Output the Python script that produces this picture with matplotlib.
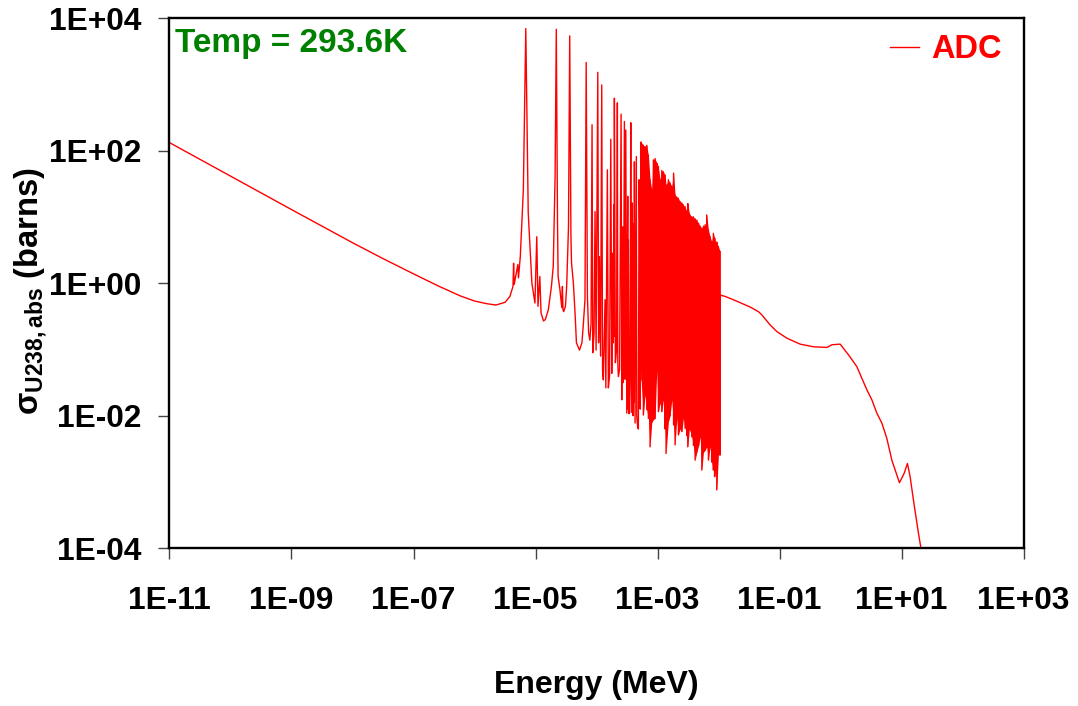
import numpy as np
import matplotlib
matplotlib.use("Agg")
import matplotlib.pyplot as plt
from matplotlib.ticker import FixedLocator, FuncFormatter, NullLocator

plt.rcParams['font.family'] = ['Liberation Sans', 'DejaVu Sans']
plt.rcParams['font.weight'] = 'bold'
plt.rcParams['mathtext.fontset'] = 'custom'
plt.rcParams['mathtext.rm'] = 'Liberation Sans:bold'
plt.rcParams['mathtext.bf'] = 'Liberation Sans:bold'
plt.rcParams['mathtext.it'] = 'Liberation Sans:bold'

# values are log10(E / MeV) and log10(sigma / barns)

# thermal 1/v part and the resolved resonances up to ~0.5 keV
res_log_e = [-11.0, -10.0, -9.0, -8.5, -8.0, -7.5, -7.0, -6.6, -6.24, -6.0,
             -5.8, -5.65, -5.5, -5.42, -5.37, -5.36, -5.35, -5.29, -5.28, -5.25,
             -5.20, -5.16, -5.12, -5.06, -5.01, -4.98, -4.96, -4.93, -4.91, -4.87,
             -4.84, -4.79, -4.74, -4.71, -4.68, -4.66, -4.64, -4.63, -4.60, -4.57,
             -4.56, -4.55, -4.54, -4.51, -4.49, -4.46, -4.44, -4.42, -4.41, -4.38,
             -4.35, -4.33, -4.28, -4.24, -4.22, -4.19, -4.17, -4.15, -4.13, -4.11,
             -4.09, -4.074, -4.062, -4.041, -4.025, -4.008, -3.980, -3.967, -3.954, -3.934,
             -3.915, -3.902, -3.889, -3.861, -3.848, -3.833, -3.823, -3.807, -3.787, -3.767,
             -3.751, -3.738, -3.725, -3.718, -3.713, -3.708, -3.692, -3.672, -3.659, -3.652,
             -3.643, -3.623, -3.598, -3.587, -3.574, -3.561, -3.544, -3.533, -3.521, -3.505,
             -3.489, -3.484, -3.479, -3.467, -3.451, -3.439, -3.432, -3.413, -3.402, -3.390,
             -3.385, -3.380, -3.369, -3.348, -3.341, -3.328, -3.315, -3.303, -3.295, -3.284]
res_log_s = [2.12, 1.615, 1.11, 0.86, 0.61, 0.37, 0.14, -0.04, -0.19, -0.27,
             -0.31, -0.33, -0.29, -0.20, -0.05, 0.30, -0.02, 0.28, 0.08, 0.40,
             1.41, 3.84, 1.06, 0.00, -0.30, 0.70, -0.35, 0.10, -0.45, -0.57,
             -0.55, -0.40, -0.05, 0.25, 1.60, 3.83, 0.90, 0.10, -0.10, -0.37,
             -0.05, -0.40, -0.43, -0.35, -0.05, 0.85, 3.73, 0.70, 0.30, 0.00,
             -0.50, -0.90, -1.01, -0.90, -0.66, -0.25, 3.33, -0.20, -0.75, -0.86,
             -0.60, 2.39, -1.05, -0.75, 1.08, -1.01, 3.18, -0.90, 0.40, -1.10,
             2.99, -1.31, -1.46, -0.25, -1.58, 0.35, 1.71, -1.58, -1.40, 2.17,
             -1.36, 0.45, -0.90, 1.18, -0.80, 2.79, -1.20, -1.00, 2.72, -1.20,
             -1.41, -1.30, 2.55, -1.76, 0.85, -1.50, 2.44, -1.45, 2.31, -1.96,
             1.31, -1.90, 0.65, -1.97, -1.26, 2.42, -1.95, 1.21, -2.00, 0.90,
             -1.80, 1.83, -2.11, 1.91, -2.00, -2.16, -2.20, 1.56, 0.95, -1.90]

# unresolved-looking band up to 10 keV: upper and lower envelope
dense_log_e = [-3.270, -3.233, -3.205, -3.177, -3.151, -3.123, -3.095, -3.069, -3.041, -3.013,
               -2.987, -2.959, -2.931, -2.905, -2.877, -2.861, -2.823, -2.795, -2.767, -2.738,
               -2.713, -2.685, -2.659, -2.631, -2.603, -2.577, -2.549, -2.521, -2.505, -2.479,
               -2.439, -2.413, -2.385, -2.357, -2.328, -2.303, -2.275, -2.248, -2.221, -2.194,
               -2.167, -2.139, -2.114, -2.085, -2.065, -2.046, -2.030, -2.003, -1.976]
dense_top = [2.13, 2.08, 2.06, 2.08, 1.93, 1.56, 1.41, 1.86, 1.88, 1.81,
             1.76, 1.56, 1.70, 1.68, 1.63, 1.48, 1.56, 1.51, 1.46, 1.66,
             1.33, 1.30, 1.28, 1.23, 1.21, 1.18, 1.15, 1.08, 1.20, 1.05,
             1.00, 1.00, 0.97, 0.95, 0.90, 0.86, 0.83, 0.86, 0.88, 1.03,
             0.80, 0.70, 0.63, 0.75, 0.68, 0.60, 0.62, 0.55, 0.48]
dense_bot = [-1.46, -1.99, -1.69, -1.91, -2.04, -2.47, -2.10, -2.06, -2.04, -1.31,
             -1.94, -1.81, -1.94, -1.76, -2.20, -2.57, -2.09, -2.00, -1.76, -2.14,
             -2.44, -2.04, -2.29, -2.20, -2.24, -2.04, -2.19, -2.30, -2.47, -2.20,
             -2.32, -2.45, -2.67, -2.55, -2.45, -2.32, -2.82, -2.55, -2.52, -2.47,
             -2.67, -2.47, -2.70, -2.82, -2.92, -2.80, -3.12, -2.59, -2.59]

# smooth fast region
fast_log_e = [-1.976, -1.894, -1.758, -1.484, -1.347, -1.29, -1.156, -1.046, -0.882, -0.664,
              -0.446, -0.226, -0.144, -0.008, 0.128, 0.266, 0.430, 0.512, 0.593, 0.675,
              0.757, 0.839, 0.964, 1.041, 1.095, 1.139, 1.193, 1.275, 1.315, 1.325]
fast_log_s = [-0.18, -0.20, -0.25, -0.36, -0.43, -0.48, -0.63, -0.73, -0.83, -0.92,
              -0.96, -0.97, -0.93, -0.92, -1.08, -1.26, -1.61, -1.76, -1.96, -2.11,
              -2.34, -2.67, -3.01, -2.87, -2.72, -2.92, -3.27, -3.77, -3.99, -4.10]

res_e = 10.0 ** np.array(res_log_e)
res_s = 10.0 ** np.array(res_log_s)
dense_e = 10.0 ** np.array(dense_log_e)
top = 10.0 ** np.array(dense_top)
bot = 10.0 ** np.array(dense_bot)
fast_e = 10.0 ** np.array(fast_log_e)
fast_s = 10.0 ** np.array(fast_log_s)

# the band is drawn as a zigzag top -> bottom at every energy
zz_e = np.repeat(dense_e, 2)
zz_s = np.column_stack([top, bot]).ravel()

energy = np.concatenate([res_e, zz_e, fast_e])
sigma = np.concatenate([res_s, zz_s, fast_s])

fig = plt.figure(figsize=(10.78, 7.06), dpi=100)
ax = fig.add_axes([0.1572, 0.2234, 0.7924, 0.7511])

ax.fill_between(dense_e, bot, top, color='#ff0000', lw=0)
ax.plot(energy, sigma, color='#ff0000', lw=1.0, label='ADC')

ax.set_xscale('log')
ax.set_yscale('log')
ax.set_xlim(1e-11, 1e3)
ax.set_ylim(1e-4, 1e4)

ax.xaxis.set_major_locator(FixedLocator([10.0 ** k for k in range(-11, 4, 2)]))
ax.yaxis.set_major_locator(FixedLocator([10.0 ** k for k in range(-4, 5, 2)]))
ax.xaxis.set_minor_locator(NullLocator())
ax.yaxis.set_minor_locator(NullLocator())
fmt = FuncFormatter(lambda v, p: '1E{:+03d}'.format(int(round(np.log10(v)))))
ax.xaxis.set_major_formatter(fmt)
ax.yaxis.set_major_formatter(fmt)

ax.tick_params(axis='both', which='major', direction='out', length=8, width=1,
               color='#444444', labelsize=22.8)
ax.tick_params(axis='x', pad=19)
ax.tick_params(axis='y', pad=12)
for s in ax.spines.values():
    s.set_linewidth(1.7)
    s.set_color('black')

ax.set_xlabel('Energy (MeV)', fontsize=23, fontweight='bold')
ax.xaxis.set_label_coords(0.5, -0.229)
ax.set_ylabel(r'$\mathbf{σ_{U238,abs}}$ (barns)', fontsize=23.5, fontweight='bold')
ax.yaxis.set_label_coords(-0.141, 0.485)

ax.text(0.007, 0.9365, 'Temp = 293.6K', transform=ax.transAxes, color='#008000',
        fontsize=24, fontweight='bold', ha='left', va='baseline')

ax.legend(loc='upper right', bbox_to_anchor=(0.993, 1.0), frameon=False,
          handlelength=0.9, handletextpad=0.35, borderaxespad=0.3, borderpad=0.2,
          labelcolor='#ff0000', prop={'size': 23.5, 'weight': 'bold'})

fig.savefig('out.png', dpi=100)
